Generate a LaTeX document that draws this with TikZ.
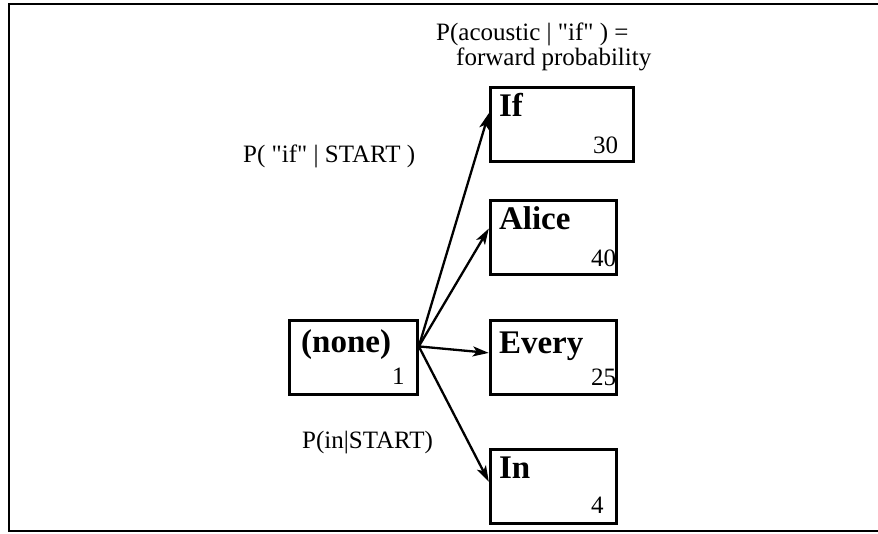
\documentclass[tikz,border=0pt]{standalone}
\usepackage{fontspec}
\setmainfont{Liberation Serif}
\usetikzlibrary{positioning, arrows.meta}

\begin{document}
\begin{tikzpicture}[x=1pt, y=-1pt,
            wordbox/.style={draw=black, line width=2.8pt, rectangle, minimum width=126pt, minimum height=74pt, inner sep=0pt},
            word/.style={font=\fontsize{33}{33}\selectfont\bfseries, anchor=base west, inner sep=0pt},
            score/.style={font=\fontsize{25}{25}\selectfont, anchor=base west, inner sep=0pt},
            prob/.style={font=\fontsize{25}{25}\selectfont, anchor=base west, inner sep=0pt, align=left},
            edge/.style={line width=2.3pt, -{Stealth[length=16pt, width=10pt, inset=4pt]}}
        ]

        \useasboundingbox (0,0) rectangle (878,533);
        \draw[line width=2.8pt] (878,4) -- (9,4) -- (9,531) -- (878,531);

        % Knoten
        \node[wordbox, minimum width=128pt, anchor=north west] (none) at (288,319) {};
        \node[wordbox, right=70pt of none] (Every) {};
        \node[wordbox, above=43pt of Every] (Alice) {};
        \node[wordbox, minimum width=143pt, above=36pt of Alice.north west, anchor=south west] (If) {};
        \node[wordbox, below=52pt of Every] (In) {};

        \node[word] (none-w) at ([xshift=13pt, yshift=-33pt]none.north west) {(none)};
        \node[word] (Every-w) at ([xshift=10pt, yshift=-34pt]Every.north west) {Every};
        \node[word] (Alice-w) at ([xshift=10pt, yshift=-30pt]Alice.north west) {Alice};
        \node[word] (If-w) at ([xshift=10pt, yshift=-30pt]If.north west) {If};
        \node[word] (In-w) at ([xshift=10pt, yshift=-31pt]In.north west) {In};

        \node[score] (none-s) at ([xshift=104pt, yshift=11pt]none.south west) {1};
        \node[score] (Every-s) at ([xshift=102pt, yshift=10pt]Every.south west) {25};
        \node[score] (Alice-s) at ([xshift=102pt, yshift=10pt]Alice.south west) {40};
        \node[score] (If-s) at ([xshift=104pt, yshift=10pt]If.south west) {30};
        \node[score] (In-s) at ([xshift=102pt, yshift=11pt]In.south west) {4};

        % base = Grundlinie der letzten Zeile
        \node[prob] (fwd) at (436,65) {P(acoustic | \textquotedbl if\textquotedbl\ ) =\\\hspace*{20pt}forward probability};
        \node[prob] (ifprob) at (243,162) {P( \textquotedbl if\textquotedbl\ | START )};
        \node[prob] (inprob) at (302,448) {P(in|START)};

        % Kanten
        \coordinate (src) at ([yshift=11pt]none.east);
        \draw[edge] (src) -- (If.171);
        \draw[edge] (src) -- (Alice.172);
        \draw[edge] (src) -- (Every.176);
        \draw[edge] (src) -- (In.176);

    \end{tikzpicture}
\end{document}
